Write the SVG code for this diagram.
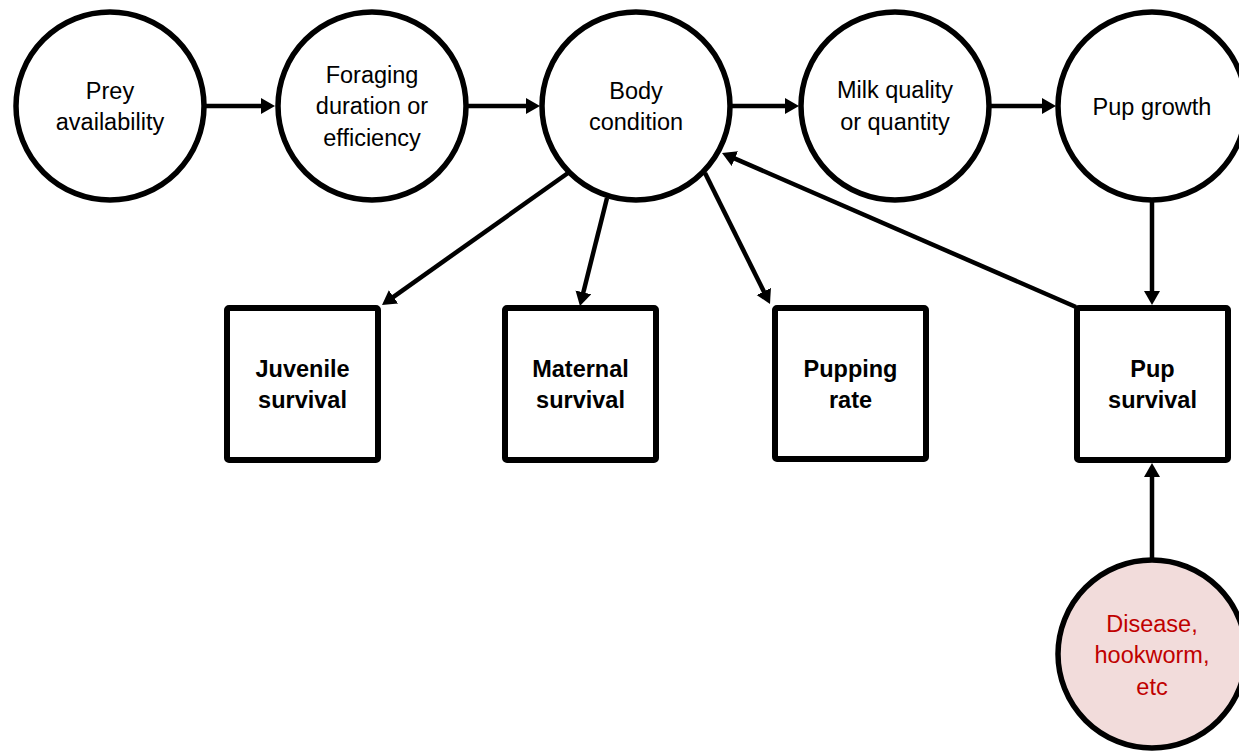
<svg xmlns="http://www.w3.org/2000/svg" width="1239" height="752" viewBox="0 0 1239 752">
<style>
.c{fill:#ffffff;stroke:#000000;stroke-width:5.5}
.d{fill:#f2dcdb;stroke:#000000;stroke-width:5.5}
.b{fill:#ffffff;stroke:#000000;stroke-width:6}
.t{font-family:"Liberation Sans",Arial,sans-serif;font-size:23.5px;fill:#000000;text-anchor:middle}
.tb{font-family:"Liberation Sans",Arial,sans-serif;font-size:23.5px;font-weight:bold;fill:#000000;text-anchor:middle}
.tr{font-family:"Liberation Sans",Arial,sans-serif;font-size:23.5px;fill:#c00000;text-anchor:middle}
.e{stroke:#000000;stroke-width:4.5;fill:none;marker-end:url(#ah)}
</style>
<defs>
<marker id="ah" markerUnits="userSpaceOnUse" markerWidth="15" markerHeight="17" refX="3" refY="8" orient="auto">
<path d="M0,0 L14,8 L0,16 z" fill="#000000"/>
</marker>
</defs>
<rect width="1239" height="752" fill="#ffffff"/>
<g id="connectors">
<line class="e" x1="206" y1="106" x2="264" y2="106"/>
<line class="e" x1="467" y1="106" x2="529" y2="106"/>
<line class="e" x1="732" y1="106" x2="788" y2="106"/>
<line class="e" x1="991" y1="106" x2="1045" y2="106"/>
<line class="e" x1="568" y1="173" x2="391" y2="298.6"/>
<line class="e" x1="607" y1="198" x2="582.6" y2="295.3"/>
<line class="e" x1="705" y1="173" x2="765.1" y2="294.1"/>
<line class="e" x1="1076" y1="307" x2="732.1" y2="157.4"/>
<line class="e" x1="1152" y1="201" x2="1152" y2="294"/>
<line class="e" x1="1152" y1="558" x2="1152" y2="474"/>
</g>
<g id="prey">
<circle class="c" cx="110" cy="106" r="94"/>
<text class="t" x="110" y="99">Prey</text>
<text class="t" x="110" y="130">availability</text>
</g>
<g id="foraging">
<circle class="c" cx="372" cy="106" r="94"/>
<text class="t" x="372" y="83">Foraging</text>
<text class="t" x="372" y="114">duration or</text>
<text class="t" x="372" y="146">efficiency</text>
</g>
<g id="body">
<circle class="c" cx="636" cy="106" r="94"/>
<text class="t" x="636" y="99">Body</text>
<text class="t" x="636" y="130">condition</text>
</g>
<g id="milk">
<circle class="c" cx="895" cy="106" r="94"/>
<text class="t" x="895" y="98">Milk quality</text>
<text class="t" x="895" y="130">or quantity</text>
</g>
<g id="pupgrowth">
<circle class="c" cx="1152" cy="106" r="94"/>
<text class="t" x="1152" y="115">Pup growth</text>
</g>
<g id="juvenile">
<rect class="b" x="227" y="308" width="151" height="152" rx="2"/>
<text class="tb" x="302.5" y="377">Juvenile</text>
<text class="tb" x="302.5" y="408">survival</text>
</g>
<g id="maternal">
<rect class="b" x="505" y="308" width="151" height="152" rx="2"/>
<text class="tb" x="580.5" y="377">Maternal</text>
<text class="tb" x="580.5" y="408">survival</text>
</g>
<g id="pupping">
<rect class="b" x="775" y="308" width="151" height="151" rx="2"/>
<text class="tb" x="850.5" y="377">Pupping</text>
<text class="tb" x="850.5" y="408">rate</text>
</g>
<g id="pupsurvival">
<rect class="b" x="1077" y="308" width="151" height="152" rx="2"/>
<text class="tb" x="1152.5" y="377">Pup</text>
<text class="tb" x="1152.5" y="408">survival</text>
</g>
<g id="disease">
<circle class="d" cx="1152" cy="654" r="94"/>
<text class="tr" x="1152" y="632">Disease,</text>
<text class="tr" x="1152" y="663">hookworm,</text>
<text class="tr" x="1152" y="695">etc</text>
</g>
</svg>
